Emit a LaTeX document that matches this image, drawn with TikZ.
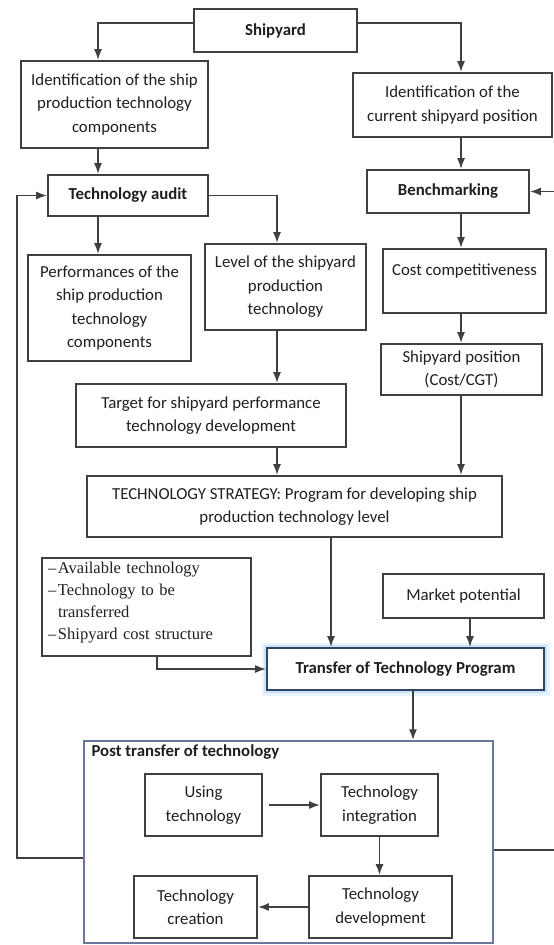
\documentclass[tikz,border=0pt]{standalone}
\usepackage{fontspec}
\setmainfont{Carlito}
\newfontfamily\listfont{Liberation Serif}
\usetikzlibrary{arrows.meta}
\definecolor{linegray}{rgb}{0.25,0.25,0.25}
\definecolor{postblue}{rgb}{0.42,0.47,0.62}
\definecolor{glowblue}{rgb}{0.70,0.84,0.96}
\definecolor{transblue}{rgb}{0.18,0.27,0.40}
\tikzset{
	flowbox/.style={draw=linegray, line width=1.6pt, fill=white, align=center, inner sep=2pt, text=black!88},
	arr/.style={draw=linegray, line width=1.8pt, -{Latex[length=11pt,width=8pt]}}
}

\begin{document}
\begin{tikzpicture}[x=1pt,y=-1pt,font=\fontsize{16.8}{23.5}\selectfont]
	\useasboundingbox (0,0) rectangle (554,945);
	% columns of the arrows
	\coordinate (colL) at (98,0);
	\coordinate (colM) at (277,0);
	\coordinate (colR) at (461,0);
	\coordinate (colA) at (157,0);
	\coordinate (colS) at (331,0);
	\coordinate (colK) at (470,0);
	\coordinate (colP) at (413,0);
	\coordinate (fbl) at (17,0);
	\coordinate (fbr) at (557,0);

	% upper part
	\node[flowbox, minimum width=163pt, minimum height=43pt] (ship) at (275.5,30.5) {\textbf{Shipyard}};
	\node[flowbox, minimum width=187pt, minimum height=87pt] (idtech) at (114.5,104.5) {Identification of the ship\\production technology\\components};
	\node[flowbox, minimum width=199pt, minimum height=64pt] (idpos) at (452.5,105) {Identification of the\\current shipyard position};
	\node[flowbox, minimum width=160pt, minimum height=41pt] (ta) at (128,195.5) {\textbf{Technology audit}};
	\node[flowbox, minimum width=162pt, minimum height=43pt] (bench) at (448,191.5) {\textbf{Benchmarking}};
	\node[flowbox, minimum width=163pt, minimum height=106pt] (perf) at (109.5,308) {Performances of the\\ship production\\technology\\components};
	\node[flowbox, minimum width=161pt, minimum height=86pt] (level) at (285.5,287) {Level of the shipyard\\production\\technology};
	\node[flowbox, minimum width=163pt, minimum height=64pt] (cost) at (464.5,281) {Cost competitiveness\\~};
	\node[flowbox, minimum width=161pt, minimum height=51pt] (pos) at (461.5,369.5) {Shipyard position\\(Cost/CGT)};
	\node[flowbox, minimum width=270pt, minimum height=63pt] (target) at (211,415.5) {Target for shipyard performance\\technology development};
	\node[flowbox, minimum width=415pt, minimum height=61pt] (strat) at (294.5,506.5) {TECHNOLOGY STRATEGY: Program for developing ship\\production technology level};

	% transfer
	\node[flowbox, align=left, text width=197pt, inner xsep=6pt, minimum height=98pt, font=\listfont\fontsize{16.5}{22}\selectfont] (avail) at (146.5,607)
		{\makebox[10pt][l]{\textendash}Available technology\\\makebox[10pt][l]{\textendash}Technology to be\\\makebox[10pt][l]{}transferred\\\makebox[10pt][l]{\textendash}Shipyard cost structure\\[-10pt]~};
	\node[flowbox, minimum width=161pt, minimum height=44pt] (market) at (463.5,596) {Market potential};
	\node[flowbox, draw=transblue, minimum width=277pt, minimum height=42pt,
		preaction={draw=glowblue, line width=11pt, opacity=0.3},
		preaction={draw=glowblue, line width=6pt, opacity=0.55}] (transfer) at (405.5,669) {\textbf{Transfer of Technology Program}};

	% post transfer
	\node[draw=postblue, line width=1.3pt, minimum width=409pt, minimum height=202pt] (post) at (288.5,842) {};
	\node[anchor=north west, inner sep=0pt, text=black!88] (postlbl) at ([xshift=8pt,yshift=-4pt]post.north west) {\textbf{Post transfer of technology}};
	\node[flowbox, minimum width=117pt, minimum height=62pt] (using) at (203.5,805) {Using\\technology};
	\node[flowbox, minimum width=117pt, minimum height=62pt] (integ) at (379.5,805) {Technology\\integration};
	\node[flowbox, minimum width=143pt, minimum height=62pt] (dev) at (380.5,907) {Technology\\development};
	\node[flowbox, minimum width=123pt, minimum height=62pt] (create) at (195.5,907) {Technology\\creation};

	% arrows
	\draw[arr] ([yshift=7.5pt]ship.west) -| (colL |- idtech.north);
	\draw[arr] ([yshift=7.5pt]ship.east) -| (colR |- idpos.north);
	\draw[arr] (colL |- idtech.south) -- (colL |- ta.north);
	\draw[arr] (colR |- idpos.south) -- (colR |- bench.north);
	\draw[arr] (colL |- ta.south) -- (colL |- perf.north);
	\draw[arr] (ta.east) -| (colM |- level.north);
	\draw[arr] (colR |- bench.south) -- (colR |- cost.north);
	\draw[arr] (colR |- cost.south) -- (colR |- pos.north);
	\draw[arr] (colM |- level.south) -- (colM |- target.north);
	\draw[arr] (colM |- target.south) -- (colM |- strat.north);
	\draw[arr] (colR |- pos.south) -- (colR |- strat.north);
	\draw[arr] (colS |- strat.south) -- (colS |- transfer.north);
	\draw[arr] (colK |- market.south) -- (colK |- transfer.north);
	\draw[arr] (colA |- avail.south) |- (transfer.west);
	\draw[arr] (colP |- transfer.south) -- (colP |- post.north);
	\draw[arr, shorten <=6pt] (using) -- (integ);
	\draw[arr] (integ) -- (integ |- dev.north);
	\draw[arr] (dev) -- (create);

	% feedback
	\draw[arr] ([yshift=-16pt]post.west) -| (fbl |- ta.west) -- (ta.west);
	\draw[arr] ([yshift=-8pt]post.east) -| (fbr |- bench.east) -- (bench.east);
\end{tikzpicture}
\end{document}
